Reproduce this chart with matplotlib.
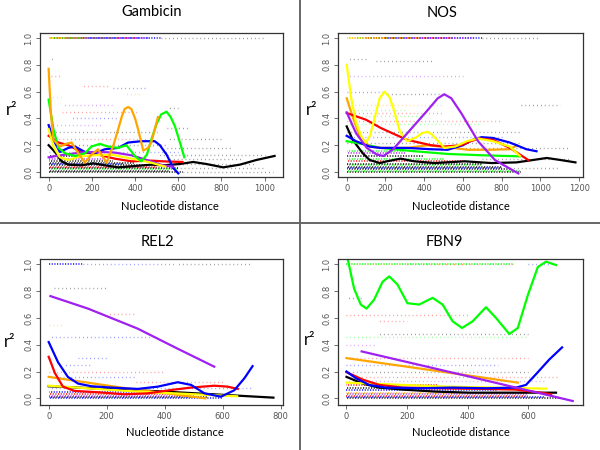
import matplotlib
matplotlib.use("Agg")
import matplotlib.pyplot as plt

# ─── Colores (R) ──────────────────────────────────────────────────────────────

COL = {'red': '#FF0000', 'blue': '#0000FF', 'green': '#00FF00',
       'orange': '#FFA500', 'yellow': '#FFFF00', 'purple': '#A020F0',
       'black': '#000000'}

# ─── Datos: curvas suavizadas (distancia, r2) ────────────────────────────────

gam_curves = {
    'black':  ([0, 29, 60, 91, 152, 206, 260, 322, 399, 475, 529, 608, 669, 730, 808, 885, 962, 1046],
               [0.20, 0.15, 0.08, 0.055, 0.05, 0.065, 0.05, 0.035, 0.045, 0.055, 0.05, 0.06, 0.075, 0.06, 0.035, 0.055, 0.09, 0.12]),
    'red':    ([0, 45, 91, 152, 229, 306, 383, 475, 529, 620],
               [0.27, 0.22, 0.20, 0.15, 0.13, 0.10, 0.08, 0.085, 0.08, 0.075]),
    'blue':   ([0, 22, 52, 91, 122, 168, 214, 260, 322, 368, 429, 491, 515, 546, 577, 600],
               [0.35, 0.24, 0.15, 0.18, 0.19, 0.15, 0.14, 0.17, 0.18, 0.22, 0.23, 0.23, 0.20, 0.13, 0.03, -0.01]),
    'purple': ([0, 76, 152, 229, 306, 383, 460, 529, 577],
               [0.11, 0.13, 0.146, 0.15, 0.145, 0.125, 0.087, 0.05, 0.04]),
    'yellow': ([0, 22, 52, 91, 152, 214, 291, 352, 414, 475, 540],
               [0.32, 0.19, 0.11, 0.09, 0.12, 0.125, 0.13, 0.11, 0.09, 0.07, 0.04]),
    'green':  ([0, 12, 22, 45, 76, 122, 168, 198, 237, 275, 322, 360, 399, 429, 455, 475, 500, 521, 546, 565, 585, 608, 628],
               [0.54, 0.42, 0.32, 0.18, 0.14, 0.12, 0.14, 0.19, 0.21, 0.19, 0.18, 0.20, 0.12, 0.08, 0.13, 0.24, 0.36, 0.43, 0.45, 0.41, 0.34, 0.22, 0.11]),
    'orange': ([0, 10, 22, 52, 80, 106, 137, 168, 198, 229, 268, 300, 322, 340, 352, 368, 383, 400, 414, 438, 460, 475, 490, 506],
               [0.77, 0.45, 0.24, 0.19, 0.21, 0.22, 0.14, 0.07, 0.13, 0.17, 0.07, 0.20, 0.32, 0.42, 0.47, 0.485, 0.47, 0.40, 0.32, 0.16, 0.18, 0.22, 0.31, 0.41]),
}

nos_curves = {
    'black':  ([0, 31, 83, 118, 170, 208, 278, 348, 452, 609, 748, 877, 963, 1033, 1103, 1181],
               [0.34, 0.24, 0.14, 0.09, 0.067, 0.08, 0.10, 0.08, 0.067, 0.08, 0.067, 0.072, 0.09, 0.105, 0.09, 0.072]),
    'green':  ([0, 80, 174, 350, 521, 700, 894],
               [0.23, 0.21, 0.18, 0.155, 0.135, 0.125, 0.117]),
    'orange': ([0, 31, 66, 118, 174, 313, 417, 521, 626, 730, 842, 880],
               [0.55, 0.41, 0.27, 0.19, 0.18, 0.18, 0.20, 0.185, 0.166, 0.166, 0.17, 0.20]),
    'blue':   ([0, 48, 118, 174, 313, 435, 521, 600, 650, 696, 755, 842, 928, 980],
               [0.27, 0.23, 0.19, 0.18, 0.18, 0.17, 0.166, 0.20, 0.24, 0.26, 0.254, 0.22, 0.17, 0.155]),
    'red':    ([0, 100, 174, 250, 313, 435, 504, 591, 640, 685, 755, 842, 937],
               [0.44, 0.39, 0.33, 0.28, 0.24, 0.20, 0.19, 0.20, 0.23, 0.25, 0.24, 0.18, 0.09]),
    'yellow': ([0, 22, 48, 83, 100, 120, 140, 170, 195, 220, 240, 275, 313, 360, 390, 417, 440, 460, 504, 560, 620, 678, 755, 842, 894],
               [0.80, 0.56, 0.37, 0.24, 0.22, 0.27, 0.38, 0.55, 0.60, 0.56, 0.48, 0.30, 0.23, 0.26, 0.29, 0.30, 0.28, 0.25, 0.18, 0.19, 0.23, 0.25, 0.23, 0.19, 0.12]),
    'purple': ([0, 48, 104, 156, 190, 240, 313, 417, 470, 504, 540, 591, 678, 765, 800, 886],
               [0.445, 0.29, 0.18, 0.13, 0.12, 0.17, 0.29, 0.46, 0.55, 0.58, 0.55, 0.44, 0.23, 0.09, 0.06, -0.01]),
}

rel_curves = {
    'black':  ([0, 400, 775], [0.09, 0.05, 0.005]),
    'orange': ([0, 250, 540], [0.16, 0.08, 0.0]),
    'yellow': ([0, 307, 650], [0.094, 0.05, 0.015]),
    'red':    ([0, 21, 49, 89, 170, 261, 342, 422, 491, 571, 617, 652],
               [0.31, 0.19, 0.087, 0.055, 0.045, 0.03, 0.037, 0.062, 0.08, 0.094, 0.087, 0.07]),
    'blue':   ([0, 32, 66, 101, 147, 216, 307, 376, 445, 491, 537, 594, 640, 675, 703],
               [0.42, 0.27, 0.16, 0.11, 0.09, 0.08, 0.07, 0.087, 0.12, 0.10, 0.037, 0.012, 0.06, 0.15, 0.24]),
    'purple': ([6, 135, 307, 445, 571], [0.763, 0.67, 0.52, 0.37, 0.236]),
}

fbn_curves = {
    'black':  ([0, 53, 108, 185, 295, 405, 515, 691],
               [0.16, 0.11, 0.08, 0.065, 0.05, 0.042, 0.042, 0.042]),
    'yellow': ([0, 328, 658], [0.117, 0.087, 0.072]),
    'orange': ([0, 280, 565], [0.30, 0.21, 0.117]),
    'red':    ([0, 53, 108, 185, 295, 460, 559, 647, 675],
               [0.195, 0.14, 0.10, 0.08, 0.075, 0.07, 0.065, 0.04, 0.03]),
    'blue':   ([0, 31, 75, 130, 240, 350, 460, 559, 592, 625, 669, 711],
               [0.20, 0.15, 0.10, 0.08, 0.075, 0.08, 0.075, 0.08, 0.10, 0.18, 0.29, 0.38]),
    'purple': ([50, 400, 746], [0.35, 0.165, -0.02]),
    'green':  ([3, 25, 47, 66, 91, 119, 141, 168, 201, 240, 284, 317, 350, 381, 416, 460, 493, 537, 565, 598, 631, 658, 691],
               [1.05, 0.82, 0.70, 0.67, 0.736, 0.87, 0.91, 0.85, 0.71, 0.70, 0.75, 0.70, 0.575, 0.525, 0.575, 0.68, 0.60, 0.48, 0.525, 0.77, 0.98, 1.02, 0.995]),
}

# ─── Datos: filas de puntos (r2, x desde, x hasta, color) ────────────────────

gam_dense = [(1.0, 0, 110, 'yellow'), (1.0, 20, 420, 'red'), (1.0, 0, 300, 'green'),
             (1.0, 80, 520, 'blue'), (1.0, 0, 180, 'orange'), (1.0, 150, 470, 'purple'),
             (0.0, 0, 620, 'black'), (0.01, 0, 560, 'black'), (0.02, 0, 600, 'green'),
             (0.03, 0, 600, 'black'), (0.04, 0, 500, 'red'), (0.05, 0, 450, 'black'),
             (0.06, 0, 350, 'blue'), (0.07, 0, 400, 'black'), (0.08, 0, 300, 'black'),
             (0.10, 0, 250, 'purple'), (0.12, 0, 200, 'black')]
gam_faint = [(1.0, 520, 1000, 'black'), (0.84, 0, 30, 'black'), (0.72, 10, 60, 'red'),
             (0.64, 150, 280, 'red'), (0.63, 300, 450, 'blue'), (0.58, 350, 430, 'orange'),
             (0.56, 0, 60, 'orange'), (0.5, 60, 300, 'purple'), (0.45, 60, 420, 'red'),
             (0.40, 100, 320, 'blue'), (0.35, 0, 250, 'purple'), (0.3, 0, 500, 'black'),
             (0.25, 50, 450, 'red'), (0.2, 0, 550, 'black'), (0.15, 0, 600, 'blue'),
             (0.13, 500, 1000, 'black'), (0.0, 620, 1040, 'black'), (0.03, 560, 1000, 'black'),
             (0.06, 550, 950, 'black'), (0.1, 550, 900, 'black'), (0.18, 550, 850, 'black'),
             (0.25, 550, 800, 'black'), (0.33, 550, 650, 'black'), (0.48, 550, 600, 'black')]

nos_dense = [(1.0, 0, 250, 'yellow'), (1.0, 50, 350, 'green'), (1.0, 100, 550, 'red'),
             (1.0, 200, 700, 'blue'), (1.0, 300, 650, 'purple'), (1.0, 0, 400, 'orange'),
             (0.0, 0, 900, 'black'), (0.01, 0, 900, 'green'), (0.02, 0, 850, 'black'),
             (0.03, 0, 800, 'blue'), (0.04, 0, 800, 'black'), (0.05, 0, 700, 'green'),
             (0.06, 0, 700, 'black'), (0.08, 0, 600, 'red'), (0.1, 0, 500, 'green'),
             (0.12, 0, 400, 'black'), (0.14, 0, 300, 'purple'), (0.16, 0, 300, 'green')]
nos_faint = [(1.0, 700, 1000, 'black'), (0.84, 0, 100, 'black'), (0.83, 150, 450, 'black'),
             (0.72, 0, 600, 'purple'), (0.6, 0, 200, 'blue'), (0.58, 200, 500, 'black'),
             (0.5, 0, 500, 'orange'), (0.46, 0, 300, 'green'), (0.44, 0, 500, 'red'),
             (0.42, 0, 400, 'green'), (0.38, 0, 800, 'red'), (0.36, 0, 700, 'green'),
             (0.3, 0, 900, 'black'), (0.26, 0, 800, 'blue'), (0.22, 0, 900, 'black'),
             (0.18, 600, 1150, 'black'), (0.1, 700, 1150, 'black'), (0.03, 850, 1100, 'black'),
             (0.5, 900, 1100, 'black')]

rel_dense = [(1.0, 0, 120, 'blue'), (0.0, 0, 600, 'blue'), (0.01, 0, 550, 'black'),
             (0.02, 0, 500, 'purple'), (0.03, 0, 450, 'red'), (0.05, 0, 400, 'blue')]
rel_faint = [(1.0, 120, 440, 'blue'), (1.0, 440, 700, 'black'), (0.82, 20, 200, 'black'),
             (0.63, 200, 300, 'red'), (0.55, 0, 50, 'orange'), (0.46, 0, 350, 'blue'),
             (0.3, 100, 200, 'blue'), (0.25, 50, 150, 'blue'), (0.2, 0, 400, 'red'),
             (0.16, 0, 300, 'blue'), (0.12, 300, 600, 'red'), (0.08, 0, 700, 'blue')]

fbn_dense = [(1.0, 0, 550, 'green'), (0.0, 0, 700, 'black'), (0.01, 0, 650, 'blue'),
             (0.02, 0, 600, 'red'), (0.03, 0, 600, 'purple'), (0.04, 0, 550, 'orange'),
             (0.06, 0, 500, 'blue'), (0.08, 0, 400, 'black'), (0.1, 0, 300, 'red')]
fbn_faint = [(1.0, 200, 550, 'red'), (1.0, 0, 400, 'orange'), (1.0, 600, 700, 'blue'),
             (0.75, 0, 50, 'black'), (0.62, 0, 400, 'red'), (0.58, 100, 200, 'red'),
             (0.46, 0, 600, 'green'), (0.48, 100, 600, 'black'), (0.4, 0, 100, 'purple'),
             (0.3, 0, 600, 'red'), (0.25, 0, 500, 'blue'), (0.2, 0, 600, 'black'),
             (0.16, 0, 700, 'red'), (0.13, 0, 650, 'purple')]

# ─── Ejes de cada panel ──────────────────────────────────────────────────────

gam_xticks = [0, 200, 400, 600, 800, 1000]
nos_xticks = [0, 200, 400, 600, 800, 1000, 1200]
rel_xticks = [0, 200, 400, 600, 800]
fbn_xticks = [0, 200, 400, 600]
yticks = [0.0, 0.2, 0.4, 0.6, 0.8, 1.0]

W, H = 600, 450
fig = plt.figure(figsize=(6, 4.5), dpi=100)


def px_axes(l, t, r, b):
    return fig.add_axes([l / W, 1 - b / H, (r - l) / W, (b - t) / H])


def draw_panel(ax, curves, dense, faint, xticks, xlim, ylim):
    for i, (y, x0, x1, c) in enumerate(faint):
        ax.plot([x0, x1], [y, y], color=COL[c], lw=1.0, alpha=0.45,
                ls=(i % 2, (0.6, 2.2)), solid_capstyle='butt')
    for i, (y, x0, x1, c) in enumerate(dense):
        ax.plot([x0, x1], [y, y], color=COL[c], lw=1.2, alpha=0.85,
                ls=(i % 3, (0.7, 0.9)), solid_capstyle='butt')
    for c, (xs, ys) in curves.items():
        ax.plot(xs, ys, color=COL[c], lw=1.6, solid_joinstyle='round')
    ax.set_xlim(xlim)
    ax.set_ylim(ylim)
    ax.set_xticks(xticks)
    ax.set_yticks(yticks)
    ax.set_xticklabels([str(t) for t in xticks])
    ax.set_yticklabels(['%.1f' % t for t in yticks], rotation=90, va='center')
    ax.tick_params(labelsize=6, labelcolor='#555555', color='#555555',
                   length=3, width=0.6, pad=2)
    for s in ax.spines.values():
        s.set_color('#333333')
        s.set_linewidth(0.9)


ax1 = px_axes(40, 33, 283, 177)
draw_panel(ax1, gam_curves, gam_dense, gam_faint, gam_xticks, (-40, 1085), (-0.037, 1.037))
ax2 = px_axes(338, 33, 583, 177)
draw_panel(ax2, nos_curves, nos_dense, nos_faint, nos_xticks, (-45, 1220), (-0.037, 1.037))
ax3 = px_axes(40, 259, 283, 405)
draw_panel(ax3, rel_curves, rel_dense, rel_faint, rel_xticks, (-30, 808), (-0.05, 1.04))
ax4 = px_axes(338, 259, 583, 405)
draw_panel(ax4, fbn_curves, fbn_dense, fbn_faint, fbn_xticks, (-28, 780), (-0.05, 1.04))

# ─── Textos ──────────────────────────────────────────────────────────────────

font = ['Lato', 'DejaVu Sans']
titles = [('Gambicin', 152, 12), ('NOS', 442, 13), ('REL2', 157, 242), ('FBN9', 444, 242)]
for txt, x, y in titles:
    fig.text(x / W, 1 - y / H, txt, ha='center', va='center', fontsize=10.5, family=font)

for x, y in [(170, 207), (461, 207), (175, 432), (461, 432)]:
    fig.text(x / W, 1 - y / H, 'Nucleotide distance', ha='center', va='center',
             fontsize=8, family=font)

for x, y in [(12, 110), (312, 110), (10, 342), (310, 340)]:
    fig.text(x / W, 1 - y / H, 'r²', ha='center', va='center', fontsize=12, family=font)

# ─── Separadores ─────────────────────────────────────────────────────────────

fig.add_artist(plt.Line2D([300 / W, 300 / W], [0, 1], color='#666666', lw=1.4))
fig.add_artist(plt.Line2D([0, 1], [1 - 223 / H, 1 - 223 / H], color='#666666', lw=1.4))

fig.savefig('out.png', dpi=100)
